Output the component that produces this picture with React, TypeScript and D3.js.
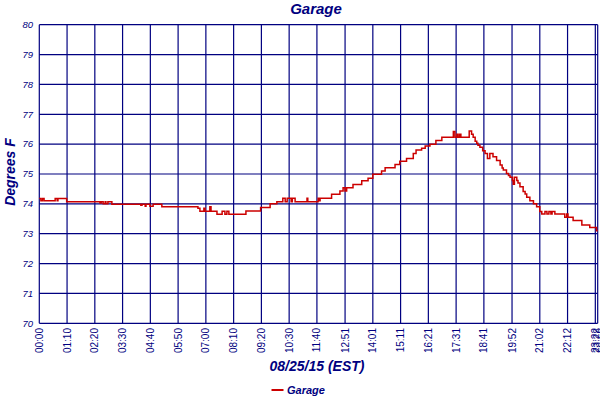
import React from "react";
import * as d3 from "d3";

const title = "Garage";
const yTitle = "Degrees F";
const xTitle = "08/25/15 (EST)";
const seriesName = "Garage";

const tickMinutes = [0, 70, 140, 210, 280, 350, 420, 490, 560, 630, 700, 771, 841, 911, 981, 1051, 1121, 1192, 1262, 1332, 1402, 1408];
const tickLabels = ["00:00", "01:10", "02:20", "03:30", "04:40", "05:50", "07:00", "08:10", "09:20", "10:30", "11:40", "12:51", "14:01", "15:11", "16:21", "17:31", "18:41", "19:52", "21:02", "22:12", "23:22", "23:28"];
const yTicks = [70, 71, 72, 73, 74, 75, 76, 77, 78, 79, 80];

// time of reading in minutes after midnight
const times = [
  0, 4, 8, 12, 40, 45, 47, 69, 153, 156, 161, 166, 168, 173, 183, 256, 259, 267, 269, 279, 287, 309,
  400, 405, 415, 418, 430, 433, 448, 461, 468, 473, 478, 521, 558, 582, 599, 614, 620, 625, 635, 638, 645,
  675, 677, 703, 705, 708, 737, 758, 766, 771, 775, 791, 813, 829, 841, 863, 872, 897, 909, 926, 943, 950,
  964, 973, 985, 1000, 1015, 1044, 1048, 1053, 1056, 1060, 1063, 1084, 1090, 1094, 1099, 1103, 1106, 1111,
  1118, 1124, 1130, 1136, 1144, 1153, 1162, 1167, 1170, 1178, 1183, 1187, 1193, 1195, 1198, 1204, 1207,
  1212, 1220, 1225, 1229, 1237, 1246, 1254, 1262, 1267, 1275, 1280, 1285, 1290, 1293, 1300, 1325, 1330,
  1333, 1346, 1368, 1388, 1405, 1408,
];
// temperature, degrees F
const temps = [
  74.18, 74.1, 74.18, 74.1, 74.18, 74.1, 74.18, 74.07, 74.03, 74.07, 74.0, 74.07, 74.0, 74.07, 73.99, 73.95, 73.99, 73.92, 73.99, 73.92, 73.99, 73.9,
  73.85, 73.75, 73.85, 73.75, 73.9, 73.75, 73.65, 73.75, 73.65, 73.75, 73.65, 73.76, 73.88, 74.0, 74.07, 74.19, 74.07, 74.19, 74.07, 74.19, 74.07,
  74.19, 74.07, 74.19, 74.1, 74.19, 74.32, 74.43, 74.54, 74.43, 74.54, 74.65, 74.77, 74.86, 74.99, 75.1, 75.21, 75.32, 75.43, 75.52, 75.69, 75.8,
  75.86, 75.94, 76.0, 76.12, 76.23, 76.42, 76.23, 76.33, 76.23, 76.33, 76.23, 76.44, 76.33, 76.23, 76.1, 76.03, 75.96, 75.9,
  75.78, 75.69, 75.52, 75.69, 75.58, 75.45, 75.3, 75.2, 75.13, 75.02, 74.95, 74.89, 74.78, 74.66, 74.89, 74.78, 74.7,
  74.57, 74.41, 74.33, 74.22, 74.1, 74.0, 73.9, 73.74, 73.66, 73.74, 73.66, 73.74, 73.66, 73.74, 73.66, 73.55, 73.66,
  73.55, 73.44, 73.29, 73.21, 73.1, 73.1,
];

const W = 600;
const H = 400;
const navy = "#000080";
const red = "#cc0000";

export default function App() {
  const x = d3.scaleLinear().domain([0, 1408]).range([39.3, 597.7]);
  const y = d3.scaleLinear().domain([70, 80]).range([323.3, 24.7]);
  const data = times.map((t, i) => [t, temps[i]] as [number, number]);
  const line = d3
    .line<[number, number]>()
    .x((d) => x(d[0]))
    .y((d) => y(d[1]))
    .curve(d3.curveStepAfter);

  const sans = "'Liberation Sans', Arial, sans-serif";

  return (
    <svg
      width={W}
      height={H}
      style={{ position: "absolute", left: 0, top: 0, background: "#fff" }}
    >
      <rect x={0} y={0} width={W} height={H} fill="#fff" />
      {/* horizontal grid */}
      {yTicks.map((t) => (
        <line key={"h" + t} x1={x(0)} x2={x(1408)} y1={y(t)} y2={y(t)} stroke={navy} strokeWidth={1.2} />
      ))}
      {/* vertical grid */}
      {tickMinutes.map((m, i) => (
        <line key={"v" + i} x1={x(m)} x2={x(m)} y1={y(80)} y2={y(70)} stroke={navy} strokeWidth={1.2} />
      ))}
      {/* y tick labels */}
      {yTicks.map((t) => (
        <text
          key={"yl" + t}
          x={33}
          y={y(t)}
          dy="0.35em"
          textAnchor="end"
          fontFamily={sans}
          fontStyle="italic"
          fontSize={9.5}
          fill={navy}
        >
          {t}
        </text>
      ))}
      {/* x tick labels */}
      {tickMinutes.map((m, i) => (
        <text
          key={"xl" + i}
          transform={`translate(${x(m)},${328}) rotate(-90)`}
          dy="0.35em"
          textAnchor="end"
          fontFamily={sans}
          fontSize={10}
          fill={navy}
        >
          {tickLabels[i]}
        </text>
      ))}
      {/* series */}
      <path d={line(data) || ""} fill="none" stroke={red} strokeWidth={1.5} />
      {/* titles */}
      <text x={316} y={14} textAnchor="middle" fontFamily={sans} fontWeight="bold" fontStyle="italic" fontSize={15} fill={navy}>
        {title}
      </text>
      <text
        transform={`translate(15,172) rotate(-90)`}
        textAnchor="middle"
        fontFamily={sans}
        fontWeight="bold"
        fontStyle="italic"
        fontSize={14}
        fill={navy}
      >
        {yTitle}
      </text>
      <text x={317} y={371} textAnchor="middle" fontFamily={sans} fontWeight="bold" fontStyle="italic" fontSize={14} fill={navy}>
        {xTitle}
      </text>
      {/* legend */}
      <line x1={271.5} x2={283.5} y1={390} y2={390} stroke={red} strokeWidth={2} />
      <text x={287} y={393.5} fontFamily={sans} fontWeight="bold" fontStyle="italic" fontSize={11} fill={navy}>
        {seriesName}
      </text>
    </svg>
  );
}
